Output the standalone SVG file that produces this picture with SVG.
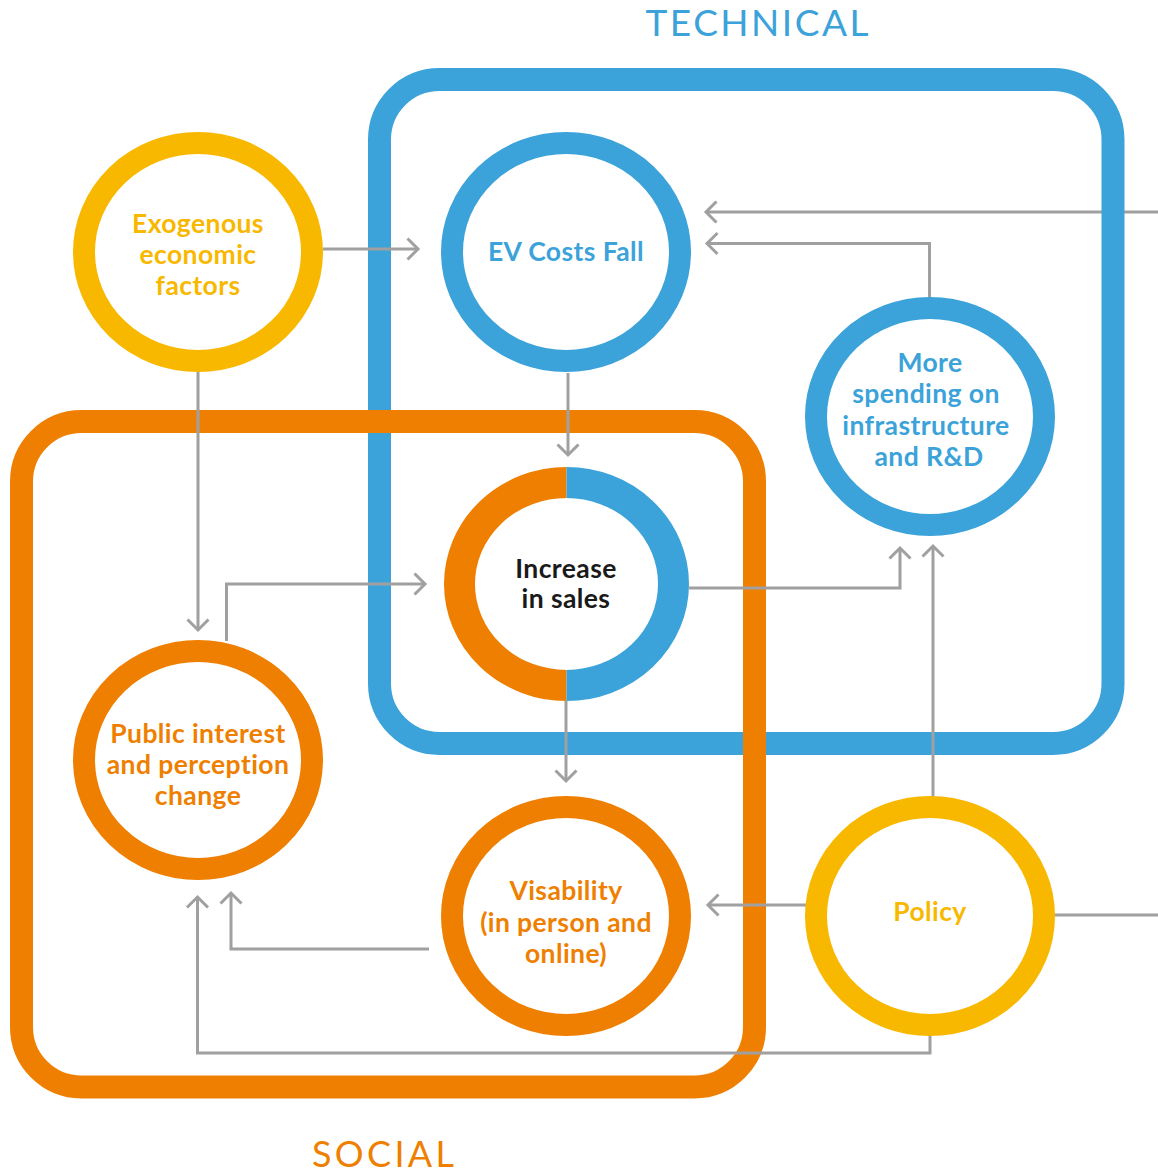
<svg xmlns="http://www.w3.org/2000/svg" width="1158" height="1173" viewBox="0 0 1158 1173">
<defs>
<style>
.lbl{font-family:Lato,"Liberation Sans",sans-serif;font-weight:700;font-size:26.5px;letter-spacing:0.4px;text-anchor:middle}
.title{font-family:Lato,"Liberation Sans",sans-serif;font-weight:400;text-anchor:middle}
.ring{fill:#fff;stroke-width:22}
.conn{fill:none;stroke:#A0A0A0;stroke-width:3}
.blue{stroke:#3BA3D9}
.orange{stroke:#EF7F00}
.yellow{stroke:#F9B800}
</style>
<marker id="arr" markerUnits="userSpaceOnUse" markerWidth="30" markerHeight="30" viewBox="-15 -15 30 30" refX="0" refY="0" orient="auto">
<path d="M -10.5 -10.5 L 0 0 L -10.5 10.5" fill="none" stroke="#A0A0A0" stroke-width="3"/>
</marker>
</defs>
<rect width="1158" height="1173" fill="#fff"/>

<!-- line under blue frame -->
<path class="conn" d="M 1158 212 L 706 212" marker-end="url(#arr)"/>

<g id="technical-frame">
<rect x="379.5" y="79.5" width="733.5" height="664" rx="60" ry="60" fill="none" stroke="#3BA3D9" stroke-width="23"/>
<text class="title" x="757" y="36" font-size="37" fill="#3BA3D9" textLength="223" lengthAdjust="spacing">TECHNICAL</text>
</g>
<g id="social-frame">
<rect x="21.5" y="421.5" width="733" height="665.5" rx="60" ry="60" fill="none" stroke="#EF7F00" stroke-width="23"/>
<text class="title" x="383" y="1167" font-size="36" fill="#EF7F00" textLength="142" lengthAdjust="spacing">SOCIAL</text>
</g>

<g id="connectors">
<path class="conn" d="M 323 249 L 418 249" marker-end="url(#arr)"/>
<path class="conn" d="M 568 373 L 568 455" marker-end="url(#arr)"/>
<path class="conn" d="M 198 372 L 198 630" marker-end="url(#arr)"/>
<path class="conn" d="M 226.5 641 L 226.5 584 L 425 584" marker-end="url(#arr)"/>
<path class="conn" d="M 689 588 L 900 588 L 900 548" marker-end="url(#arr)"/>
<path class="conn" d="M 933 797 L 933 546" marker-end="url(#arr)"/>
<path class="conn" d="M 929.5 298 L 929.5 243.5 L 707 243.5" marker-end="url(#arr)"/>
<path class="conn" d="M 566 701 L 566 781" marker-end="url(#arr)"/>
<path class="conn" d="M 806 905 L 708 905" marker-end="url(#arr)"/>
<path class="conn" d="M 429 949 L 231 949 L 231 893" marker-end="url(#arr)"/>
<path class="conn" d="M 930 1035 L 930 1053 L 197.5 1053 L 197.5 897" marker-end="url(#arr)"/>
<path class="conn" d="M 1054 915 L 1158 915"/>
</g>

<g id="exogenous">
<ellipse class="ring yellow" cx="198" cy="252" rx="114" ry="109"/>
<text class="lbl" fill="#F9B800"><tspan x="198" y="233">Exogenous</tspan><tspan x="198" y="264">economic</tspan><tspan x="198" y="295">factors</tspan></text>
</g>
<g id="ev-costs">
<ellipse class="ring blue" cx="566" cy="252" rx="114" ry="109"/>
<text class="lbl" fill="#3BA3D9" x="566" y="261">EV Costs Fall</text>
</g>
<g id="more-spending">
<ellipse class="ring blue" cx="930" cy="416.5" rx="114" ry="108.5"/>
<text class="lbl" fill="#3BA3D9"><tspan x="930" y="372">More</tspan><tspan x="926" y="403">spending on</tspan><tspan x="926" y="435">infrastructure</tspan><tspan x="929" y="466">and R&amp;D</tspan></text>
</g>
<g id="increase-sales">
<ellipse cx="566.5" cy="584" rx="107" ry="101.5" fill="#fff"/>
<path d="M 566.5 482.5 A 107 101.5 0 0 0 566.5 685.5" fill="none" stroke="#EF7F00" stroke-width="31"/>
<path d="M 566.5 482.5 A 107 101.5 0 0 1 566.5 685.5" fill="none" stroke="#3BA3D9" stroke-width="31"/>
<text class="lbl" fill="#1A1A1A"><tspan x="566" y="578">Increase</tspan><tspan x="566" y="608">in sales</tspan></text>
</g>
<g id="public-interest">
<ellipse class="ring orange" cx="198" cy="760" rx="114" ry="109"/>
<text class="lbl" fill="#EF7F00"><tspan x="198" y="743">Public interest</tspan><tspan x="198" y="774">and perception</tspan><tspan x="198" y="805">change</tspan></text>
</g>
<g id="visability">
<ellipse class="ring orange" cx="566" cy="916" rx="114" ry="109"/>
<text class="lbl" fill="#EF7F00"><tspan x="566" y="900">Visability</tspan><tspan x="566" y="932">(in person and</tspan><tspan x="566" y="963">online)</tspan></text>
</g>
<g id="policy">
<ellipse class="ring yellow" cx="930" cy="916" rx="114" ry="109"/>
<text class="lbl" fill="#F9B800" x="930" y="921">Policy</text>
</g>
</svg>
